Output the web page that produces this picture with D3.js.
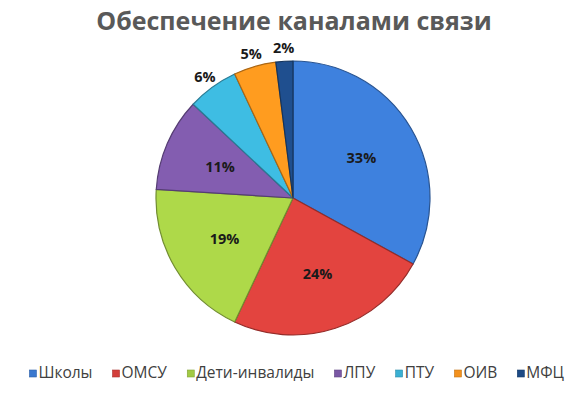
<!DOCTYPE html>
<html>
<head>
<meta charset="utf-8">
<script src="https://cdn.jsdelivr.net/npm/d3@7"></script>
<style>
  body { margin: 0; background: #fff; }
  svg { display: block; font-family: "Open Sans", sans-serif; }
</style>
</head>
<body>
<svg id="chart" width="580" height="396"></svg>
<script>
// данные диаграммы
const categories = ["Школы", "ОМСУ", "Дети-инвалиды", "ЛПУ", "ПТУ", "ОИВ", "МФЦ"];
const shares = [33, 24, 19, 11, 6, 5, 2];
const colors = ["#3a78cf", "#d33f3b", "#a2ca44", "#7a57a4", "#3ab0d3", "#f3911d", "#1d4a85"];
const outsideLabels = ["ПТУ", "ОИВ", "МФЦ"]; // маленькие сектора — подпись снаружи

const svg = d3.select("#chart");
const cx = 293, cy = 198, r = 137;

// заголовок
svg.append("text")
  .attr("x", 294).attr("y", 30)
  .attr("text-anchor", "middle")
  .attr("font-size", 25).attr("font-weight", "bold")
  .attr("fill", "#595959")
  .text("Обеспечение каналами связи");

const defs = svg.append("defs");
colors.forEach((c, i) => {
  const g = defs.append("radialGradient").attr("id", "g" + i)
    .attr("gradientUnits", "userSpaceOnUse")
    .attr("cx", cx).attr("cy", cy).attr("r", r);
  g.append("stop").attr("offset", "0%").attr("stop-color", d3.color(c).darker(0.2));
  g.append("stop").attr("offset", "90%").attr("stop-color", c);
  g.append("stop").attr("offset", "100%").attr("stop-color", d3.color(c).brighter(0.2));
});

const pie = d3.pie().sort(null).value(d => d.v);
const data = pie(categories.map((name, i) => ({ name, v: shares[i], i })));

const arc = d3.arc().innerRadius(0).outerRadius(r);
const labelArc = d3.arc().innerRadius(r * 0.58).outerRadius(r * 0.58);
const outArc = d3.arc().innerRadius(r + 13).outerRadius(r + 13);

const g = svg.append("g").attr("transform", `translate(${cx},${cy})`);

g.selectAll("path.slice")
  .data(data)
  .enter()
  .append("path")
  .attr("class", "slice")
  .attr("d", arc)
  .attr("fill", d => `url(#g${d.data.i})`)
  .attr("stroke", d => d3.color(colors[d.data.i]).darker(1))
  .attr("stroke-width", 1.2)
  .attr("stroke-linejoin", "round");

g.selectAll("text.lbl")
  .data(data)
  .enter()
  .append("text")
  .attr("class", "lbl")
  .attr("transform", d => {
    const p = outsideLabels.includes(d.data.name) ? outArc.centroid(d) : labelArc.centroid(d);
    return `translate(${p})`;
  })
  .attr("text-anchor", "middle")
  .attr("dy", "0.35em")
  .attr("font-size", 14.5).attr("font-weight", "bold")
  .attr("fill", "#1a1a1a")
  .text(d => d.data.v + "%");

// легенда
const legend = svg.append("g");
const items = legend.selectAll("g")
  .data(categories)
  .enter()
  .append("g");

items.append("rect")
  .attr("width", 7).attr("height", 7)
  .attr("y", -8)
  .attr("fill", (d, i) => colors[i])
  .attr("stroke", (d, i) => d3.color(colors[i]).darker(0.6))
  .attr("stroke-width", 0.6);

items.append("text")
  .attr("x", 9)
  .attr("font-size", 15.5)
  .attr("fill", "#404040")
  .text(d => d);

let x = 0;
const gap = 20;
items.each(function () {
  const w = this.getBBox().width;
  d3.select(this).attr("data-x", x);
  x += w + gap;
});
const total = x - gap;
const startX = 297 - total / 2;
items.attr("transform", function () {
  return `translate(${startX + +this.getAttribute("data-x")},378)`;
});
</script>
</body>
</html>
